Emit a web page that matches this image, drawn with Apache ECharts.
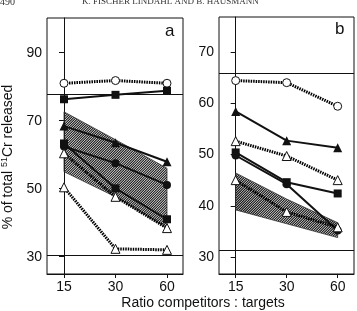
<!DOCTYPE html>
<html>
<head>
<meta charset="utf-8">
<script src="https://cdn.jsdelivr.net/npm/echarts@6/dist/echarts.min.js"></script>
<style>
html,body{margin:0;padding:0;background:#fff;}
#chart{width:357px;height:311px;}
</style>
</head>
<body>
<div id="chart"></div>
<script>
// ratio competitors : targets
var ratios = ['15', '30', '60'];
var xPos = [0, 1, 2];

// panel a
var aOpenCircle = [81.0, 81.8, 81.0];
var aSquareTop = [76.3, 77.6, 78.8];
var aTriangle = [68.4, 63.5, 57.9];
var aCircle = [62.4, 57.5, 51.1];
var aSquare = [63.3, 50.1, 41.0];
var aOpenTriangle = [60.4, 47.6, 38.4];
var aOpenTriangleLow = [50.4, 32.3, 32.0];
var aBandUpper = [72.6, 64.4, 56.0];
var aBandLower = [55.0, 47.6, 38.4];
var aRefLines = [77.8, 30.4];
var aTicks = [30, 50, 70, 90];

// panel b
var bOpenCircle = [64.4, 64.0, 59.4];
var bTriangle = [58.4, 52.7, 51.3];
var bOpenTriangle = [52.6, 49.7, 45.0];
var bSquare = [50.4, 44.6, 42.4];
var bCircle = [49.8, 44.2, 35.2];
var bOpenTriangleLow = [45.0, 38.8, 35.8];
var bBandUpper = [46.4, 41.3, 36.7];
var bBandLower = [39.2, 36.5, 33.8];
var bRefLines = [65.8, 31.4];
var bTicks = [30, 40, 50, 60, 70];

var FONT = 'Liberation Sans';

function pts(vals) {
  return vals.map(function (v, i) { return [xPos[i], v]; });
}

function lineSeries(idx, vals, symbol, filled, dotted, extra) {
  var s = {
    type: 'line',
    xAxisIndex: idx,
    yAxisIndex: idx,
    data: pts(vals),
    symbol: symbol,
    symbolSize: symbol === 'triangle' ? 9 : 8,
    z: 3,
    animation: false,
    lineStyle: dotted
      ? { color: '#000', width: 3, type: [1.5, 1] }
      : { color: '#111', width: 2 },
    itemStyle: filled
      ? { color: '#111' }
      : { color: '#fff', borderColor: '#111', borderWidth: 1 }
  };
  if (extra) s.markLine = extra;
  return s;
}

function refLines(vals) {
  return {
    symbol: 'none',
    silent: true,
    animation: false,
    label: { show: false },
    lineStyle: { color: '#111', type: 'solid', width: 1 },
    data: vals.map(function (v) { return { yAxis: v }; })
  };
}

// hatched band: diagonal lines clipped to the polygon
function band(idx, upper, lower) {
  return {
    type: 'custom',
    xAxisIndex: idx,
    yAxisIndex: idx,
    data: [0],
    z: 1,
    animation: false,
    renderItem: function (params, api) {
      var poly = [];
      upper.forEach(function (v, i) { poly.push(api.coord([xPos[i], v])); });
      for (var i = lower.length - 1; i >= 0; i--) poly.push(api.coord([xPos[i], lower[i]]));
      var x0 = Infinity, x1 = -Infinity, y0 = Infinity, y1 = -Infinity;
      poly.forEach(function (p) {
        x0 = Math.min(x0, p[0]); x1 = Math.max(x1, p[0]);
        y0 = Math.min(y0, p[1]); y1 = Math.max(y1, p[1]);
      });
      var h = y1 - y0;
      var lines = [];
      for (var x = x0 - h - 3; x < x1 + 3; x += 2.5) {
        lines.push({
          type: 'line',
          shape: { x1: x, y1: y1 + 1, x2: x + h + 2, y2: y0 - 1 },
          style: { stroke: '#111', lineWidth: 1.1 }
        });
      }
      return {
        type: 'group',
        children: [
          {
            type: 'group',
            clipPath: { type: 'polygon', shape: { points: poly } },
            children: lines
          },
          {
            type: 'polygon',
            shape: { points: poly },
            style: { fill: null, stroke: '#333', lineWidth: 0.8 }
          }
        ]
      };
    }
  };
}

function xAxis(idx, min, max) {
  return {
    type: 'value', gridIndex: idx, min: min, max: max,
    axisLine: { show: true, lineStyle: { color: '#111', width: 1 } },
    axisTick: { show: true, length: 4, customValues: xPos, lineStyle: { color: '#111' } },
    axisLabel: {
      customValues: xPos, color: '#111', fontFamily: FONT, fontSize: 14, margin: 6,
      formatter: function (v) { return ratios[Math.round(v)]; }
    },
    splitLine: { show: false }
  };
}

function yAxis(idx, min, max, ticks) {
  return {
    type: 'value', gridIndex: idx, min: min, max: max,
    axisLine: { show: true, lineStyle: { color: '#111', width: 1 } },
    axisTick: { show: true, length: 5, customValues: ticks, lineStyle: { color: '#111' } },
    axisLabel: { customValues: ticks, color: '#111', fontFamily: FONT, fontSize: 14, margin: 5 },
    splitLine: { show: false }
  };
}

var option = {
  backgroundColor: '#fff',
  animation: false,
  grid: [
    { left: 47, top: 18, width: 136, height: 256, show: true, borderColor: '#111', borderWidth: 1 },
    { left: 219, top: 17, width: 135, height: 257, show: true, borderColor: '#111', borderWidth: 1 }
  ],
  xAxis: [xAxis(0, -0.33, 2.311), xAxis(1, -0.327, 2.32)],
  yAxis: [yAxis(0, 24.9, 100.2, aTicks), yAxis(1, 26.7, 76.8, bTicks)],
  graphic: [
    { type: 'text', left: 0, top: -3, style: { text: '490', fontFamily: 'Liberation Serif', fontSize: 10, fill: '#333' } },
    { type: 'text', left: 82, top: -3, style: { text: 'K. FISCHER LINDAHL AND B. HAUSMANN', fontFamily: 'Liberation Serif', fontSize: 9, fill: '#333' } },
    { type: 'text', left: 165, top: 23, style: { text: 'a', fontFamily: FONT, fontSize: 17, fill: '#111' } },
    { type: 'text', left: 335, top: 21, style: { text: 'b', fontFamily: FONT, fontSize: 17, fill: '#111' } },
    {
      type: 'text', x: 8, y: 157, rotation: Math.PI / 2,
      style: {
        text: '% of total {sup|51}Cr released', align: 'center', verticalAlign: 'middle',
        fontFamily: FONT, fontSize: 14, fill: '#111',
        rich: { sup: { fontSize: 9, verticalAlign: 'top', padding: [0, 0, 7, 0], fontFamily: FONT } }
      }
    },
    {
      type: 'text', x: 203, y: 303,
      style: { text: 'Ratio competitors : targets', align: 'center', verticalAlign: 'middle', fontFamily: FONT, fontSize: 14, fill: '#111' }
    }
  ],
  series: [
    band(0, aBandUpper, aBandLower),
    lineSeries(0, aOpenCircle, 'circle', false, true, refLines(aRefLines)),
    lineSeries(0, aSquareTop, 'rect', true, false),
    lineSeries(0, aTriangle, 'triangle', true, false),
    lineSeries(0, aCircle, 'circle', true, false),
    lineSeries(0, aSquare, 'rect', true, false),
    lineSeries(0, aOpenTriangle, 'triangle', false, true),
    lineSeries(0, aOpenTriangleLow, 'triangle', false, true),

    band(1, bBandUpper, bBandLower),
    lineSeries(1, bOpenCircle, 'circle', false, true, refLines(bRefLines)),
    lineSeries(1, bTriangle, 'triangle', true, false),
    lineSeries(1, bOpenTriangle, 'triangle', false, true),
    lineSeries(1, bSquare, 'rect', true, false),
    lineSeries(1, bCircle, 'circle', true, false),
    lineSeries(1, bOpenTriangleLow, 'triangle', false, true)
  ]
};

var chart = echarts.init(document.getElementById('chart'));
chart.setOption(option);
</script>
</body>
</html>
